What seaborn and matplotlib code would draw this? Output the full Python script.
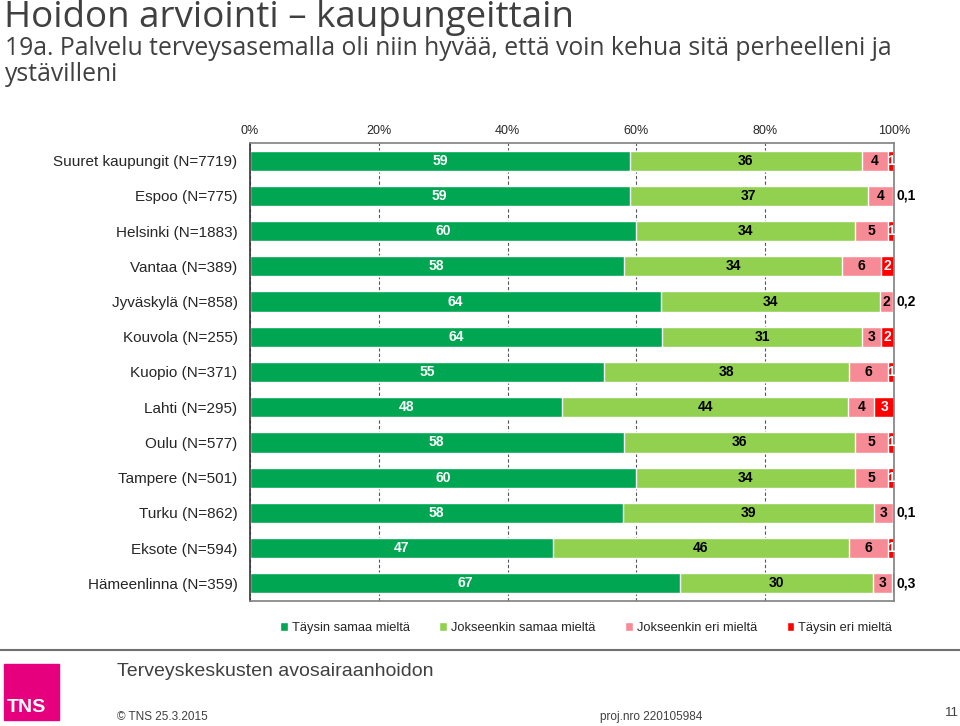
import matplotlib
matplotlib.use("Agg")
import matplotlib.pyplot as plt
from matplotlib.patches import Rectangle
from matplotlib.lines import Line2D
import seaborn as sns
import pandas as pd
import numpy as np

# data
cities = ["Suuret kaupungit (N=7719)", "Espoo (N=775)", "Helsinki (N=1883)", "Vantaa (N=389)",
          "Jyväskylä (N=858)", "Kouvola (N=255)", "Kuopio (N=371)", "Lahti (N=295)",
          "Oulu (N=577)", "Tampere (N=501)", "Turku (N=862)", "Eksote (N=594)",
          "Hämeenlinna (N=359)"]
taysin_samaa = [59, 59, 60, 58, 64, 64, 55, 48, 58, 60, 58, 47, 67]
jokseenkin_samaa = [36, 37, 34, 34, 34, 31, 38, 44, 36, 34, 39, 46, 30]
jokseenkin_eri = [4, 4, 5, 6, 2, 3, 6, 4, 5, 5, 3, 6, 3]
taysin_eri = [1, 0.1, 1, 2, 0.2, 2, 1, 3, 1, 1, 0.1, 1, 0.3]

series = ["Täysin samaa mieltä", "Jokseenkin samaa mieltä", "Jokseenkin eri mieltä", "Täysin eri mieltä"]
colors = ["#00A651", "#92D050", "#F78B95", "#FF0000"]
text_colors = ["white", "black", "black", "white"]

df = pd.DataFrame({"city": cities, series[0]: taysin_samaa, series[1]: jokseenkin_samaa,
                   series[2]: jokseenkin_eri, series[3]: taysin_eri})
vals = df[series]
shares = vals.div(vals.sum(axis=1), axis=0) * 100   # 100 % stacked
cum = shares.cumsum(axis=1)

WIDE = ["Open Sans", "Liberation Sans", "DejaVu Sans"]
sns.set_style("white")
plt.rcParams['font.family'] = ["Liberation Sans", "DejaVu Sans"]

fig = plt.figure(figsize=(9.6, 7.26), dpi=100)
ax = fig.add_axes([250 / 960, 1 - 601 / 726, 644 / 960, 458 / 726])

# stacked bars: draw cumulative totals from the last series back to the first
for i in range(len(series) - 1, -1, -1):
    plot_df = pd.DataFrame({"city": cities, "cum": cum[series[i]].values})
    sns.barplot(data=plot_df, x="cum", y="city", orient="h", color=colors[i], width=0.57,
                saturation=1, label=series[i], ax=ax, zorder=2)

ax.set_xlim(0, 100)
ax.set_ylim(len(cities) - 0.5, -0.5)
ax.set_xlabel("")
ax.set_ylabel("")

# segment labels
for r in range(len(cities)):
    left = 0
    for i, s in enumerate(series):
        v = vals[s].iloc[r]
        w = shares[s].iloc[r]
        txt = ("%g" % v).replace(".", ",")
        if v < 1:
            ax.text(100.4, r, txt, ha="left", va="center", fontsize=10, fontweight="bold",
                    color="black", clip_on=False)
        else:
            ax.text(left + w / 2, r, txt, ha="center", va="center", fontsize=10,
                    fontweight="bold", color=text_colors[i])
        left += w

# axis styling
ax.xaxis.tick_top()
ax.set_xticks([0, 20, 40, 60, 80, 100])
ax.set_xticklabels(["0%", "20%", "40%", "60%", "80%", "100%"], fontsize=9)
ax.tick_params(axis="x", length=0, pad=4)
ax.tick_params(axis="y", length=0, pad=9, labelsize=11)
ax.grid(axis="x", linestyle=(0, (3, 2)), color="#555555", linewidth=0.8)
ax.set_axisbelow(True)
for sp in ax.spines.values():
    sp.set_color("#808080")
    sp.set_linewidth(1.2)
    sp.set_visible(True)
ax.spines["left"].set_color("#333333")

# legend in series order
handles, labels = ax.get_legend_handles_labels()
lookup = dict(zip(labels, handles))
ax.legend([lookup[s] for s in series], series, loc="center", bbox_to_anchor=(586 / 960, 1 - 628 / 726),
          bbox_transform=fig.transFigure, ncol=4, frameon=False, handlelength=0.6, handleheight=0.6,
          handletextpad=0.3, columnspacing=2.3, prop={"size": 9.3})

# title and question
fig.text(4 / 960, 1 - 27 / 726, "Hoidon arviointi – kaupungeittain", fontsize=26.5, color="#404040",
         va="baseline", ha="left", family=WIDE)
fig.text(5 / 960, 1 - 55 / 726,
         "19a. Palvelu terveysasemalla oli niin hyvää, että voin kehua sitä perheelleni ja",
         fontsize=17.8, color="#404040", va="baseline", ha="left", family=WIDE)
fig.text(5 / 960, 1 - 81 / 726, "ystävilleni",
         fontsize=17.8, color="#404040", va="baseline", ha="left", family=WIDE)

# footer
fig.add_artist(Line2D([0, 1], [1 - 650 / 726, 1 - 650 / 726], color="#707070", linewidth=1.5))
fig.add_artist(Rectangle((4 / 960, 1 - 720 / 726), 55 / 960, 56 / 726, color="#E6007E",
                         transform=fig.transFigure))
fig.text(7 / 960, 1 - 708 / 726, "TNS", color="white", fontsize=14, fontweight="bold",
         va="center", ha="left")
fig.text(117 / 960, 1 - 672 / 726, "Terveyskeskusten avosairaanhoidon", fontsize=14, color="#404040",
         va="center", ha="left")
fig.text(117 / 960, 1 - 717 / 726, "© TNS 25.3.2015", fontsize=8.5, color="#404040", va="center", ha="left")
fig.text(600 / 960, 1 - 717 / 726, "proj.nro 220105984", fontsize=8.5, color="#404040", va="center", ha="left")
fig.text(945 / 960, 1 - 713 / 726, "11", fontsize=9.5, color="#404040", va="center", ha="left")

fig.savefig("out.png", dpi=100)
